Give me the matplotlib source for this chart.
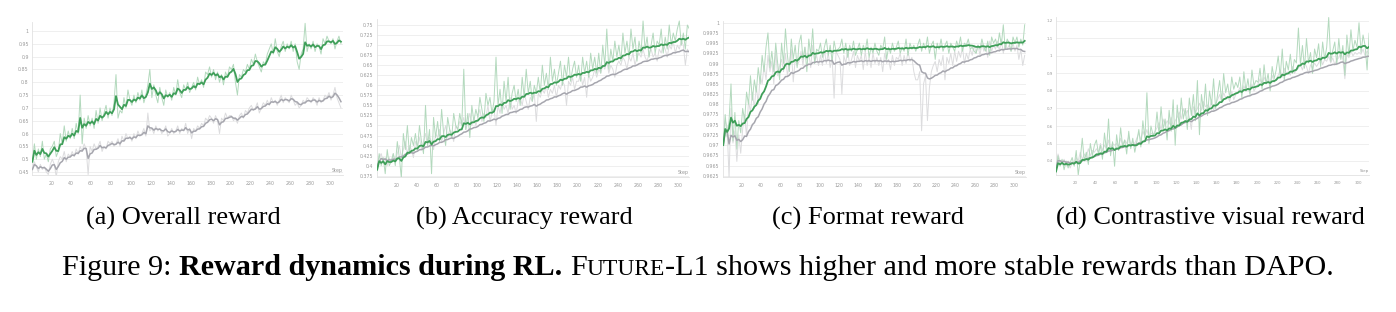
import numpy as np
import matplotlib
matplotlib.use("Agg")
import matplotlib.pyplot as plt

# ---------------- data (raw per-step rewards, sampled every 2 steps) ----------------
steps = list(range(1, 312, 2))  # 156 points

overall_future = [
    0.49, 0.56, 0.50, 0.54, 0.51, 0.57, 0.50, 0.52, 0.49, 0.54,
    0.55, 0.57, 0.51, 0.53, 0.60, 0.56, 0.63, 0.57, 0.61, 0.58,
    0.62, 0.58, 0.64, 0.60, 0.75, 0.56, 0.66, 0.62, 0.67, 0.63,
    0.66, 0.62, 0.69, 0.64, 0.70, 0.65, 0.68, 0.71, 0.66, 0.70,
    0.67, 0.72, 0.83, 0.66, 0.69, 0.68, 0.74, 0.70, 0.77, 0.73,
    0.71, 0.75, 0.72, 0.76, 0.73, 0.77, 0.72, 0.75, 0.79, 0.85,
    0.74, 0.79, 0.75, 0.72, 0.78, 0.74, 0.71, 0.77, 0.74, 0.76,
    0.73, 0.78, 0.75, 0.81, 0.76, 0.74, 0.79, 0.77, 0.80, 0.76,
    0.78, 0.80, 0.77, 0.82, 0.79, 0.81, 0.78, 0.84, 0.83, 0.86,
    0.82, 0.85, 0.81, 0.84, 0.80, 0.83, 0.79, 0.84, 0.82, 0.86,
    0.85, 0.87, 0.80, 0.75, 0.83, 0.82, 0.85, 0.84, 0.87, 0.85,
    0.89, 0.87, 0.91, 0.88, 0.86, 0.84, 0.88, 0.87, 0.91, 0.93,
    0.95, 0.91, 0.97, 0.92, 0.90, 0.94, 0.96, 0.92, 0.95, 0.93,
    0.96, 0.92, 0.95, 0.88, 0.85, 0.91, 0.93, 1.03, 0.92, 0.95,
    0.93, 0.96, 0.92, 0.95, 0.94, 0.91, 0.97, 0.95, 0.98, 0.96,
    0.95, 0.97, 0.93, 0.96, 0.98, 0.95,
]
overall_dapo = [
    0.46, 0.49, 0.47, 0.45, 0.48, 0.46, 0.47, 0.45, 0.44, 0.48,
    0.50, 0.48, 0.43, 0.49, 0.51, 0.50, 0.53, 0.49, 0.52, 0.51,
    0.53, 0.51, 0.54, 0.52, 0.55, 0.53, 0.56, 0.54, 0.44, 0.55,
    0.53, 0.56, 0.54, 0.55, 0.57, 0.53, 0.55, 0.54, 0.57, 0.56,
    0.57, 0.55, 0.56, 0.58, 0.55, 0.59, 0.57, 0.60, 0.58, 0.59,
    0.57, 0.60, 0.58, 0.61, 0.59, 0.60, 0.62, 0.59, 0.68, 0.61,
    0.62, 0.60, 0.63, 0.61, 0.62, 0.60, 0.61, 0.63, 0.59, 0.60,
    0.62, 0.60, 0.61, 0.63, 0.60, 0.62, 0.61, 0.64, 0.60, 0.62,
    0.58, 0.62, 0.61, 0.63, 0.62, 0.64, 0.63, 0.66, 0.65, 0.67,
    0.66, 0.64, 0.67, 0.65, 0.60, 0.66, 0.65, 0.68, 0.66, 0.67,
    0.67, 0.65, 0.66, 0.64, 0.67, 0.68, 0.66, 0.69, 0.68, 0.70,
    0.71, 0.69, 0.70, 0.72, 0.68, 0.70, 0.72, 0.71, 0.73, 0.71,
    0.74, 0.72, 0.73, 0.71, 0.73, 0.75, 0.72, 0.74, 0.73, 0.72,
    0.75, 0.73, 0.71, 0.72, 0.70, 0.71, 0.73, 0.72, 0.74, 0.73,
    0.72, 0.74, 0.73, 0.71, 0.74, 0.72, 0.73, 0.75, 0.74, 0.76,
    0.73, 0.75, 0.78, 0.74, 0.72, 0.70,
]

accuracy_future = [
    0.39, 0.43, 0.40, 0.42, 0.38, 0.44, 0.40, 0.41, 0.43, 0.40,
    0.46, 0.42, 0.37, 0.48, 0.44, 0.50, 0.43, 0.47, 0.45, 0.48,
    0.44, 0.50, 0.46, 0.43, 0.55, 0.45, 0.49, 0.38, 0.52, 0.47,
    0.51, 0.46, 0.54, 0.48, 0.45, 0.52, 0.49, 0.47, 0.53, 0.50,
    0.49, 0.53, 0.50, 0.64, 0.49, 0.53, 0.47, 0.55, 0.51, 0.54,
    0.52, 0.57, 0.54, 0.51, 0.58, 0.55, 0.57, 0.53, 0.56, 0.67,
    0.55, 0.59, 0.53, 0.61, 0.56, 0.62, 0.54, 0.58, 0.60, 0.56,
    0.59, 0.55, 0.62, 0.57, 0.64, 0.58, 0.61, 0.56, 0.60, 0.58,
    0.62, 0.58, 0.65, 0.60, 0.63, 0.59, 0.67, 0.61, 0.64, 0.60,
    0.63, 0.66, 0.60, 0.65, 0.62, 0.67, 0.61, 0.64, 0.66, 0.62,
    0.65, 0.61, 0.67, 0.63, 0.66, 0.62, 0.68, 0.64, 0.67, 0.63,
    0.68, 0.63, 0.70, 0.65, 0.74, 0.64, 0.69, 0.66, 0.71, 0.67,
    0.70, 0.66, 0.73, 0.68, 0.71, 0.67, 0.74, 0.69, 0.72, 0.66,
    0.71, 0.68, 0.76, 0.69, 0.72, 0.67, 0.70, 0.73, 0.68, 0.71,
    0.70, 0.74, 0.68, 0.72, 0.69, 0.75, 0.70, 0.73, 0.71, 0.74,
    0.76, 0.70, 0.73, 0.69, 0.75, 0.74,
]
accuracy_dapo = [
    0.40, 0.42, 0.43, 0.41, 0.42, 0.40, 0.42, 0.41, 0.43, 0.41,
    0.43, 0.45, 0.42, 0.44, 0.46, 0.43, 0.45, 0.44, 0.42, 0.46,
    0.45, 0.47, 0.44, 0.46, 0.48, 0.45, 0.47, 0.46, 0.44, 0.48,
    0.47, 0.49, 0.46, 0.48, 0.50, 0.47, 0.49, 0.48, 0.46, 0.50,
    0.49, 0.51, 0.50, 0.52, 0.49, 0.51, 0.53, 0.50, 0.52, 0.50,
    0.52, 0.54, 0.51, 0.53, 0.52, 0.55, 0.51, 0.53, 0.54, 0.50,
    0.55, 0.53, 0.56, 0.54, 0.55, 0.53, 0.57, 0.54, 0.55, 0.53,
    0.56, 0.57, 0.55, 0.58, 0.56, 0.54, 0.57, 0.56, 0.58, 0.51,
    0.58, 0.57, 0.59, 0.58, 0.60, 0.57, 0.59, 0.58, 0.60, 0.57,
    0.60, 0.59, 0.61, 0.60, 0.55, 0.61, 0.60, 0.62, 0.59, 0.61,
    0.61, 0.63, 0.60, 0.62, 0.57, 0.63, 0.61, 0.62, 0.64, 0.62,
    0.64, 0.63, 0.65, 0.64, 0.66, 0.63, 0.65, 0.64, 0.62, 0.65,
    0.66, 0.65, 0.67, 0.66, 0.64, 0.67, 0.66, 0.68, 0.65, 0.67,
    0.68, 0.67, 0.69, 0.67, 0.66, 0.68, 0.69, 0.67, 0.68, 0.66,
    0.69, 0.68, 0.70, 0.69, 0.67, 0.70, 0.69, 0.71, 0.68, 0.70,
    0.69, 0.71, 0.70, 0.65, 0.69, 0.68,
]

format_future = [
    0.9700, 0.9775, 0.9720, 0.9760, 0.9850, 0.9710, 0.9780, 0.9690, 0.9760, 0.9730,
    0.9790, 0.9760, 0.9830, 0.9800, 0.9870, 0.9810, 0.9860, 0.9830, 0.9890, 0.9850,
    0.9920, 0.9880, 0.9940, 0.9975, 0.9890, 0.9930, 0.9880, 0.9950, 0.9900, 0.9860,
    0.9950, 0.9900, 0.9985, 0.9920, 0.9880, 0.9960, 0.9910, 0.9945, 0.9890, 0.9950,
    0.9970, 0.9910, 0.9940, 0.9880, 0.9960, 0.9920, 0.9985, 0.9900, 0.9935, 0.9930,
    0.9950, 0.9915, 0.9940, 0.9960, 0.9920, 0.9945, 0.9905, 0.9955, 0.9930, 0.9935,
    0.9940, 0.9960, 0.9925, 0.9950, 0.9915, 0.9945, 0.9930, 0.9955, 0.9920, 0.9935,
    0.9950, 0.9920, 0.9945, 0.9930, 0.9960, 0.9915, 0.9940, 0.9925, 0.9950, 0.9930,
    0.9920, 0.9945, 0.9935, 0.9965, 0.9910, 0.9940, 0.9925, 0.9950, 0.9930, 0.9940,
    0.9955, 0.9925, 0.9940, 0.9930, 0.9960, 0.9920, 0.9950, 0.9935, 0.9945, 0.9930,
    0.9945, 0.9960, 0.9930, 0.9950, 0.9935, 0.9965, 0.9925, 0.9945, 0.9955, 0.9910,
    0.9950, 0.9935, 0.9960, 0.9930, 0.9945, 0.9955, 0.9925, 0.9950, 0.9940, 0.9930,
    0.9955, 0.9940, 0.9965, 0.9930, 0.9950, 0.9945, 0.9960, 0.9935, 0.9940, 0.9930,
    0.9925, 0.9945, 0.9935, 0.9960, 0.9940, 0.9930, 0.9955, 0.9920, 0.9965, 0.9950,
    0.9960, 0.9940, 0.9975, 0.9945, 0.9995, 0.9935, 0.9960, 0.9950, 0.9930, 0.9965,
    0.9950, 0.9965, 0.9940, 0.9960, 0.9945, 0.9995,
]
format_dapo = [
    0.9700, 0.9760, 0.9745, 0.9620, 0.9790, 0.9705, 0.9735, 0.9660, 0.9725, 0.9680,
    0.9740, 0.9775, 0.9720, 0.9810, 0.9780, 0.9830, 0.9790, 0.9845, 0.9800, 0.9870,
    0.9850, 0.9895, 0.9860, 0.9920, 0.9880, 0.9905, 0.9850, 0.9930, 0.9870, 0.9895,
    0.9910, 0.9880, 0.9925, 0.9870, 0.9900, 0.9935, 0.9855, 0.9910, 0.9895, 0.9905,
    0.9930, 0.9895, 0.9940, 0.9910, 0.9925, 0.9890, 0.9945, 0.9905, 0.9920, 0.9895,
    0.9920, 0.9895, 0.9935, 0.9900, 0.9925, 0.9890, 0.9915, 0.9815, 0.9930, 0.9920,
    0.9910, 0.9825, 0.9920, 0.9900, 0.9935, 0.9895, 0.9910, 0.9930, 0.9890, 0.9920,
    0.9905, 0.9920, 0.9885, 0.9930, 0.9895, 0.9915, 0.9890, 0.9925, 0.9900, 0.9915,
    0.9895, 0.9915, 0.9880, 0.9925, 0.9900, 0.9910, 0.9885, 0.9920, 0.9895, 0.9915,
    0.9910, 0.9925, 0.9895, 0.9920, 0.9900, 0.9930, 0.9905, 0.9915, 0.9880, 0.9860,
    0.9860, 0.9880, 0.9735, 0.9850, 0.9870, 0.9760, 0.9840, 0.9880, 0.9895, 0.9905,
    0.9880, 0.9910, 0.9895, 0.9920, 0.9860, 0.9915, 0.9900, 0.9925, 0.9895, 0.9930,
    0.9905, 0.9930, 0.9915, 0.9940, 0.9900, 0.9925, 0.9910, 0.9935, 0.9920, 0.9945,
    0.9925, 0.9945, 0.9920, 0.9950, 0.9930, 0.9940, 0.9915, 0.9955, 0.9930, 0.9945,
    0.9935, 0.9955, 0.9930, 0.9960, 0.9925, 0.9950, 0.9935, 0.9945, 0.9930, 0.9950,
    0.9930, 0.9945, 0.9910, 0.9935, 0.9895, 0.9920,
]

visual_future = [
    0.34, 0.43, 0.37, 0.41, 0.35, 0.40, 0.36, 0.39, 0.42, 0.37,
    0.46, 0.32, 0.41, 0.53, 0.40, 0.45, 0.38, 0.50, 0.43, 0.49,
    0.52, 0.44, 0.49, 0.41, 0.56, 0.46, 0.64, 0.43, 0.51, 0.37,
    0.55, 0.46, 0.59, 0.48, 0.52, 0.44, 0.57, 0.47, 0.53, 0.45,
    0.51, 0.58, 0.48, 0.63, 0.53, 0.79, 0.50, 0.60, 0.55, 0.56,
    0.68, 0.55, 0.71, 0.58, 0.64, 0.52, 0.69, 0.57, 0.75, 0.49,
    0.72, 0.60, 0.76, 0.64, 0.70, 0.58, 0.76, 0.66, 0.78, 0.63,
    0.86, 0.55, 0.78, 0.69, 0.84, 0.66, 0.80, 0.72, 0.87, 0.70,
    0.78, 0.86, 0.74, 0.90, 0.79, 0.84, 0.76, 0.88, 0.81, 0.85,
    0.82, 0.88, 0.76, 0.91, 0.80, 0.87, 0.78, 0.92, 0.83, 0.86,
    0.85, 0.93, 0.81, 0.95, 0.84, 0.90, 0.80, 0.94, 0.87, 0.92,
    1.00, 0.88, 1.04, 0.86, 0.97, 0.92, 1.01, 0.90, 0.98, 0.96,
    1.16, 0.95, 1.06, 0.93, 1.10, 0.96, 1.02, 0.90, 1.04, 0.99,
    1.07, 0.94, 1.08, 0.98, 1.05, 1.22, 0.97, 1.03, 1.08, 0.95,
    1.10, 0.98, 1.06, 0.89, 1.12, 1.00, 1.15, 1.03, 1.09, 1.05,
    1.19, 1.02, 1.12, 1.06, 0.92, 1.13,
]
visual_dapo = [
    0.36, 0.44, 0.40, 0.38, 0.41, 0.37, 0.40, 0.36, 0.39, 0.38,
    0.42, 0.40, 0.45, 0.41, 0.44, 0.42, 0.47, 0.43, 0.46, 0.45,
    0.47, 0.45, 0.50, 0.46, 0.49, 0.47, 0.52, 0.46, 0.50, 0.49,
    0.50, 0.48, 0.53, 0.49, 0.52, 0.50, 0.54, 0.49, 0.51, 0.50,
    0.53, 0.56, 0.52, 0.57, 0.54, 0.58, 0.53, 0.56, 0.55, 0.57,
    0.59, 0.62, 0.58, 0.64, 0.60, 0.63, 0.61, 0.65, 0.60, 0.63,
    0.65, 0.68, 0.64, 0.70, 0.66, 0.69, 0.65, 0.58, 0.71, 0.68,
    0.70, 0.73, 0.69, 0.74, 0.71, 0.72, 0.70, 0.75, 0.69, 0.73,
    0.75, 0.78, 0.74, 0.79, 0.76, 0.77, 0.74, 0.80, 0.75, 0.78,
    0.79, 0.82, 0.78, 0.83, 0.80, 0.81, 0.79, 0.84, 0.80, 0.82,
    0.84, 0.87, 0.83, 0.88, 0.85, 0.86, 0.84, 0.89, 0.85, 0.87,
    0.89, 0.92, 0.88, 0.93, 0.90, 0.91, 0.89, 0.94, 0.90, 0.92,
    0.93, 0.95, 0.92, 0.96, 0.94, 0.90, 0.95, 0.93, 0.96, 0.94,
    0.96, 0.99, 0.95, 0.98, 0.97, 1.00, 0.96, 0.99, 0.95, 0.98,
    0.99, 1.02, 0.98, 0.87, 1.01, 0.99, 1.03, 1.00, 1.02, 1.01,
    1.02, 1.01, 1.04, 1.00, 1.03, 1.01,
]

x_ticks = [20, 40, 60, 80, 100, 120, 140, 160, 180, 200, 220, 240, 260, 280, 300]
overall_yticks = [0.45, 0.5, 0.55, 0.6, 0.65, 0.7, 0.75, 0.8, 0.85, 0.9, 0.95, 1.0]
accuracy_yticks = [0.375, 0.4, 0.425, 0.45, 0.475, 0.5, 0.525, 0.55, 0.575, 0.6,
                   0.625, 0.65, 0.675, 0.7, 0.725, 0.75]
format_yticks = [0.9625, 0.965, 0.9675, 0.97, 0.9725, 0.975, 0.9775, 0.98, 0.9825,
                 0.985, 0.9875, 0.99, 0.9925, 0.995, 0.9975, 1.0]
visual_yticks = [0.4, 0.5, 0.6, 0.7, 0.8, 0.9, 1.0, 1.1, 1.2]

captions = ["(a) Overall reward", "(b) Accuracy reward",
            "(c) Format reward", "(d) Contrastive visual reward"]

# ---------------- style ----------------
W, H = 1396, 312
GREEN = "#3f9f59"
GREEN_RAW = "#b3d9bd"
GRAY = "#a6a6ae"
GRAY_RAW = "#dcdcde"
TICK_C = "#9a9a9a"
GRID_C = "#ececec"


def ema(vals, w):
    out = np.empty(len(vals))
    s = 0.0
    for i, v in enumerate(vals):
        s = w * s + (1 - w) * v
        out[i] = s / (1 - w ** (i + 1))
    return out


def fmt(v):
    return ("%.4f" % v).rstrip("0").rstrip(".")


# panel layout: (x px of step 20, x px of step 300), xlim, (val, ypx) pairs, ylim
panels = [
    dict(fut=overall_future, dap=overall_dapo, yt=overall_yticks, w=0.62,
         px=(51.3, 330.0), xlim=(0.9, 312.7), py=((1.0, 31.0), (0.45, 172.0)),
         ylim=(0.438, 1.036), fs=3.4, cap_x=183),
    dict(fut=accuracy_future, dap=accuracy_dapo, yt=accuracy_yticks, w=0.9,
         px=(396.3, 678.3), xlim=(0.5, 310.5), py=((0.75, 25.0), (0.375, 175.7)),
         ylim=(0.373, 0.766), fs=3.4, cap_x=524),
    dict(fut=format_future, dap=format_dapo, yt=format_yticks, w=0.9,
         px=(741.7, 1014.0), xlim=(0.5, 312.5), py=((1.0, 22.7), (0.9625, 175.7)),
         ylim=(0.9622, 1.0003), fs=3.4, cap_x=868),
    dict(fut=visual_future, dap=visual_dapo, yt=visual_yticks, w=0.9,
         px=(1075.2, 1358.0), xlim=(1.0, 311.2), py=((1.2, 21.0), (0.4, 161.0)),
         ylim=(0.32, 1.225), fs=2.9, cap_x=1210),
]

fig = plt.figure(figsize=(W / 100, H / 100), dpi=100)

for p in panels:
    (p20, p300) = p["px"]
    kx = (p300 - p20) / 280.0
    x0, x1 = p["xlim"]
    left = p20 - (20 - x0) * kx
    right = p20 + (x1 - 20) * kx
    (v1, y1), (v2, y2) = p["py"]
    ky = (y2 - y1) / (v1 - v2)
    lo, hi = p["ylim"]
    ybot = y1 + (v1 - lo) * ky
    ytop = y1 - (hi - v1) * ky
    ax = fig.add_axes([left / W, 1 - ybot / H, (right - left) / W, (ybot - ytop) / H])

    xs = np.array(steps)
    ax.plot(xs, p["dap"], color=GRAY_RAW, lw=0.7, zorder=2)
    ax.plot(xs, p["fut"], color=GREEN_RAW, lw=0.7, zorder=3)
    ax.plot(xs, ema(p["dap"], p["w"]), color=GRAY, lw=1.1, zorder=4)
    ax.plot(xs, ema(p["fut"], p["w"]), color=GREEN, lw=1.3, zorder=5)

    ax.set_xlim(x0, x1)
    ax.set_ylim(lo, hi)
    ax.set_xticks(x_ticks)
    ax.set_xticklabels([str(t) for t in x_ticks])
    ax.set_yticks(p["yt"])
    ax.set_yticklabels([fmt(v) for v in p["yt"]])
    ax.tick_params(length=0, labelsize=p["fs"], colors=TICK_C)
    ax.tick_params(axis="x", pad=4.5)
    ax.tick_params(axis="y", pad=2.5)
    ax.grid(axis="y", color=GRID_C, lw=0.6, zorder=0)
    for s in ("top", "right"):
        ax.spines[s].set_visible(False)
    for s in ("left", "bottom"):
        ax.spines[s].set_color("#e2e2e2")
        ax.spines[s].set_linewidth(0.6)
    ax.set_facecolor("white")
    ax.text(1.0, 0.012, "Step", transform=ax.transAxes, ha="right", va="bottom",
            fontsize=p["fs"], color=TICK_C)

SERIF = ["Liberation Serif", "DejaVu Serif"]
CAP_FS = 19
FIG_FS = 21.7
for p, c in zip(panels, captions):
    fig.text(p["cap_x"] / W, 1 - 218 / H, c, ha="center", va="center",
             fontsize=CAP_FS, family=SERIF)

# figure caption with bold part and small caps
renderer = fig.canvas.get_renderer()
parts = [
    ("Figure 9:", dict(fontsize=FIG_FS), True),
    ("Reward dynamics during RL.", dict(fontsize=FIG_FS, weight="bold"), True),
    ("F", dict(fontsize=FIG_FS), False),
    ("UTURE", dict(fontsize=FIG_FS * 0.78), False),
    ("-L1 shows higher and more stable rewards than DAPO.", dict(fontsize=FIG_FS), False),
]
ybase = 1 - 275 / H
probe = fig.text(0, 0, "a a", fontsize=FIG_FS, family=SERIF)
probe2 = fig.text(0, 0, "aa", fontsize=FIG_FS, family=SERIF)
space_w = probe.get_window_extent(renderer).width - probe2.get_window_extent(renderer).width
probe.remove()
probe2.remove()
texts, widths = [], []
for s, kw, sp in parts:
    t = fig.text(0, ybase, s, ha="left", va="baseline", family=SERIF, **kw)
    texts.append(t)
    widths.append(t.get_window_extent(renderer).width + (space_w if sp else 0))
total = sum(widths)
xcur = 698 - total / 2
for t, wdt in zip(texts, widths):
    t.set_x(xcur / W)
    xcur += wdt

fig.savefig("out.png", dpi=100, facecolor="white")
